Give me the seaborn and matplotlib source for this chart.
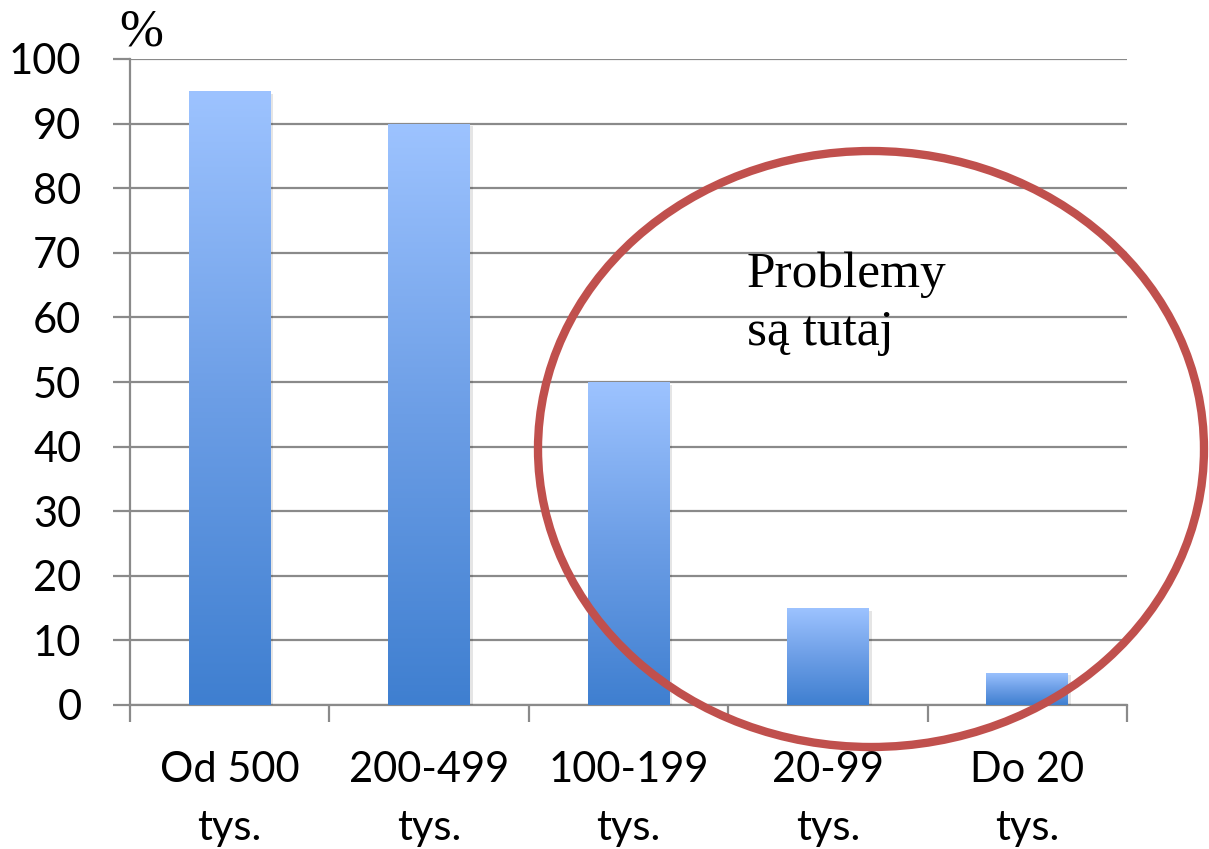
import numpy as np
import pandas as pd
import matplotlib
matplotlib.use("Agg")
import matplotlib.pyplot as plt
import matplotlib.patheffects as pe
from matplotlib.patches import Ellipse
from matplotlib.colors import LinearSegmentedColormap
import seaborn as sns

categories = ["Od 500\ntys.", "200-499\ntys.", "100-199\ntys.", "20-99\ntys.", "Do 20\ntys."]
values = [95, 90, 50, 15, 5]
y_ticks = [0, 10, 20, 30, 40, 50, 60, 70, 80, 90, 100]

sns.set_theme(style="white")
plt.rcParams["font.family"] = ["Lato", "DejaVu Sans"]
plt.rcParams["text.color"] = "black"

df = pd.DataFrame({"category": categories, "value": values})

fig = plt.figure(figsize=(12.09, 8.49), dpi=100)
ax = fig.add_axes([130 / 1209, 144 / 849, 997 / 1209, 646 / 849])

sns.barplot(data=df, x="category", y="value", ax=ax, width=0.41,
            color="#4a86d6", linewidth=0, zorder=3)

ax.set_yticks(y_ticks)
ax.grid(axis="y", color="#8a8a8a", linewidth=1.6, zorder=0)
ax.set_axisbelow(True)
ax.set_xlabel("")
ax.set_ylabel("")

for side in ["top", "right"]:
    ax.spines[side].set_visible(False)
for side in ["left", "bottom"]:
    ax.spines[side].set_color("#8a8a8a")
    ax.spines[side].set_linewidth(1.6)

ax.tick_params(axis="y", which="major", length=12, width=1.6, color="#8a8a8a",
               labelsize=30, pad=23, left=True, labelcolor="black")
ax.tick_params(axis="x", which="major", length=0, labelsize=30, pad=33,
               labelcolor="black")
ax.set_xticks(np.arange(-0.5, len(categories)), minor=True)
ax.tick_params(axis="x", which="minor", length=12, width=1.6, color="#8a8a8a",
               bottom=True, direction="out")
for lbl in ax.get_xticklabels():
    lbl.set_linespacing(1.65)

# vertical gradient fill for each bar, light at the top, deeper blue at the base
cmap = LinearSegmentedColormap.from_list("bar_grad", ["#3f7fd0", "#6c9ee6", "#9dc3ff"])
grad = np.linspace(0, 1, 256).reshape(-1, 1)
for patch in ax.patches:
    x0, y0 = patch.get_x(), patch.get_y()
    w, h = patch.get_width(), patch.get_height()
    patch.set_facecolor("#6c9ee6")
    patch.set_path_effects([pe.SimplePatchShadow(offset=(2, -2), shadow_rgbFace="#000000", alpha=0.10)])
    im = ax.imshow(grad, extent=[x0, x0 + w, y0, y0 + h], origin="lower",
                   aspect="auto", cmap=cmap, zorder=4, interpolation="bicubic")
    im.set_clip_path(patch)
ax.set_xlim(-0.5, len(categories) - 0.5)
ax.set_ylim(0, 100)

serif = ["Liberation Serif", "DejaVu Serif"]

# unit label above the value axis
fig.text(119 / 1209, 1 - 45 / 849, "%", fontsize=38, family=serif,
         ha="left", va="baseline", color="black")

# annotation text and highlighting ellipse
fig.text(747 / 1209, 1 - 287 / 849, "Problemy", fontsize=37, family=serif,
         ha="left", va="baseline", color="black")
fig.text(747 / 1209, 1 - 345 / 849, "są tutaj", fontsize=37, family=serif,
         ha="left", va="baseline", color="black")
ell = Ellipse((871 / 1209, 1 - 449 / 849), 666 / 1209, 596 / 849,
              transform=fig.transFigure, fill=False, edgecolor="#c0504d",
              linewidth=6, zorder=10)
fig.patches.append(ell)

fig.savefig("out.png", dpi=100)
